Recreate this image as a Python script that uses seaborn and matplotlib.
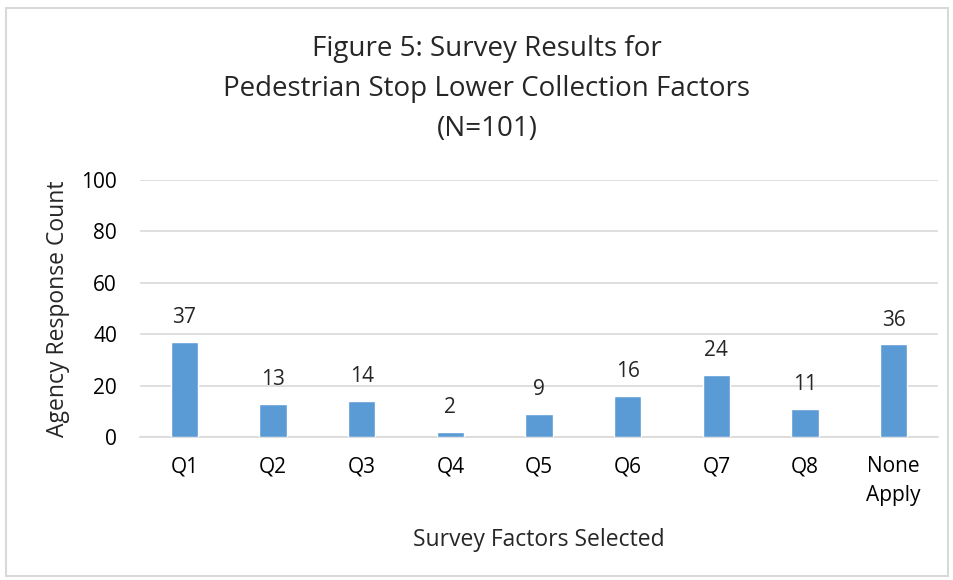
import matplotlib
matplotlib.use("Agg")
import matplotlib.pyplot as plt
import seaborn as sns
import pandas as pd
from matplotlib.patches import Rectangle

categories = ["Q1", "Q2", "Q3", "Q4", "Q5", "Q6", "Q7", "Q8", "None\nApply"]
counts = [37, 13, 14, 2, 9, 16, 24, 11, 36]
yticks = [0, 20, 40, 60, 80, 100]
title = "Figure 5: Survey Results for\nPedestrian Stop Lower Collection Factors\n(N=101)"
xlabel = "Survey Factors Selected"
ylabel = "Agency Response Count"

sns.set_theme(style="white")
plt.rcParams['font.family'] = ['Open Sans', 'DejaVu Sans']

df = pd.DataFrame({"cat": categories, "count": counts})

fig = plt.figure(figsize=(9.54, 5.80), dpi=100)
ax = fig.add_axes([140/954, 1-437/580, (938-140)/954, (437-180)/580])

sns.barplot(data=df, x="cat", y="count", color="#5B9BD5", width=0.31,
            saturation=1, ax=ax, zorder=3)

ax.set_ylim(0, 100)
ax.set_yticks(yticks)
ax.set_xlim(-0.5, len(categories) - 0.5)
ax.yaxis.grid(True, color="#D9D9D9", linewidth=1.2, zorder=0)
ax.set_axisbelow(True)
for s in ["top", "right", "left"]:
    ax.spines[s].set_visible(False)
ax.spines["bottom"].set_color("#D9D9D9")
ax.spines["bottom"].set_linewidth(1.2)
ax.tick_params(axis="both", length=0, labelsize=15, colors="black")
ax.tick_params(axis="x", pad=14)
ax.tick_params(axis="y", pad=16.5)
for lab in ax.get_xticklabels():
    lab.set_linespacing(1.45)

for c in ax.containers:
    ax.bar_label(c, labels=[str(v) for v in counts], padding=10, fontsize=15)

ax.set_xlabel(xlabel, fontsize=16.5, labelpad=16)
ax.set_ylabel(ylabel, fontsize=16.5, labelpad=8)

fig.text(487/954, 1-89/580, title, ha="center", va="center", fontsize=20,
         linespacing=1.55)

fig.patches.append(Rectangle((6/954, 4/580), (942)/954, (568)/580,
                             transform=fig.transFigure, fill=False,
                             edgecolor="#D9D9D9", linewidth=1.5))

fig.savefig("out.png", dpi=100)
